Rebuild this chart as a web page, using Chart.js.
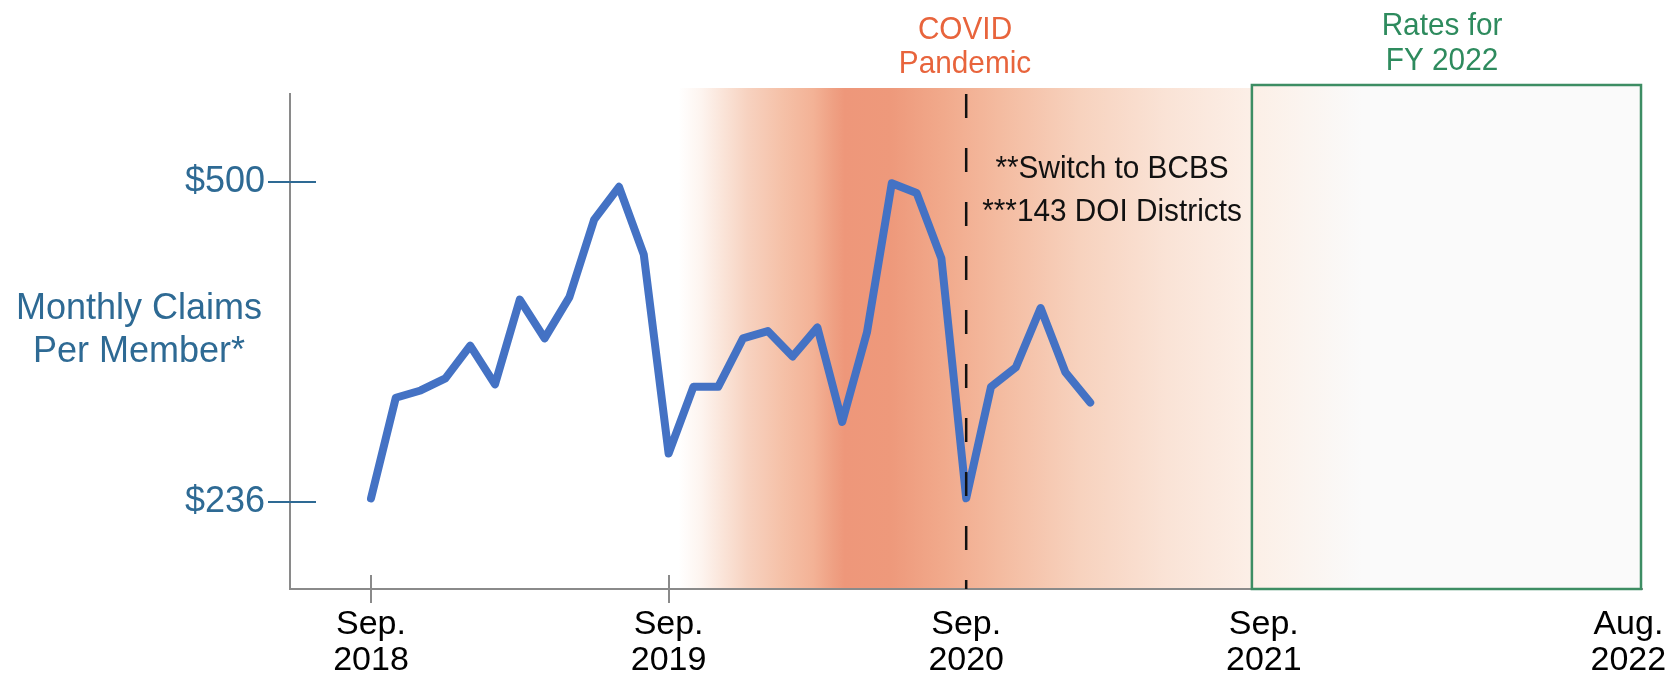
<!DOCTYPE html>
<html><head><meta charset="utf-8">
<script src="https://cdn.jsdelivr.net/npm/chart.js@4.4.1/dist/chart.umd.min.js"></script>
<style>html,body{margin:0;padding:0;background:#fff}canvas{display:block}</style>
</head><body>
<canvas id="c" width="1667" height="677"></canvas>
<script>
// ---- data ----
const months = ["Sep 2018","Oct 2018","Nov 2018","Dec 2018","Jan 2019","Feb 2019","Mar 2019","Apr 2019","May 2019","Jun 2019","Jul 2019","Aug 2019",
                "Sep 2019","Oct 2019","Nov 2019","Dec 2019","Jan 2020","Feb 2020","Mar 2020","Apr 2020","May 2020","Jun 2020","Jul 2020","Aug 2020",
                "Sep 2020","Oct 2020","Nov 2020","Dec 2020","Jan 2021","Feb 2021"];
const claims = [239, 322, 328, 338, 365, 333, 403, 371, 405, 469, 496, 440,
                276, 331, 331, 371, 377, 356, 380, 302, 376, 499, 491, 437,
                239, 331, 347, 396, 343, 318];
const yTickValues = [236, 500];
const yTickLabels = ["$236", "$500"];
const xTickMonths = [0, 12, 24, 36, 50.7];           // month index of each axis label
const xTickLabels = [["Sep.","2018"],["Sep.","2019"],["Sep.","2020"],["Sep.","2021"],["Aug.","2022"]];
const xTickMarked = [true, true, false, false, false];
const covidRange = [12.4, 35.52];                    // month index range of the shaded band
const ratesRange = [35.52, 51.25];                   // month index range of the FY 2022 box
const switchMonth = 24;
const covidText = ["COVID", "Pandemic"];
const ratesText = ["Rates for", "FY 2022"];
const noteText = ["**Switch to BCBS", "***143 DOI Districts"];
const yTitle = ["Monthly Claims", "Per Member*"];

const FONT = '"Liberation Sans", Arial, Helvetica, sans-serif';
const BLUE_TEXT = '#2e6a94';
const AXIS_GRAY = '#8a8a8a';

function narrowText(ctx, text, cx, baseline, sx) {
  ctx.save();
  ctx.translate(cx, baseline);
  ctx.scale(sx, 1);
  ctx.fillText(text, 0, 0);
  ctx.restore();
}

const decor = {
  id: 'decor',
  beforeDatasetsDraw(chart) {
    const {ctx, chartArea: a, scales: {x, y}} = chart;
    ctx.save();
    // COVID band
    const x0 = x.getPixelForValue(covidRange[0]), x1 = x.getPixelForValue(covidRange[1]);
    const top = a.top - 6;
    const g = ctx.createLinearGradient(x0, 0, x1, 0);
    const stops = [[0,'#ffffff'],[0.04,'#fdf4ef'],[0.08,'#fae3d7'],[0.12,'#f7d2c0'],[0.18,'#f5c1a8'],[0.235,'#f3b296'],
                   [0.27,'#efa083'],[0.29,'#ee977a'],[0.37,'#ee997b'],[0.46,'#f1a98b'],[0.56,'#f4bba0'],
                   [0.7,'#f7d2be'],[0.85,'#fae3d6'],[1,'#fcefe7']];
    stops.forEach(s => g.addColorStop(s[0], s[1]));
    ctx.fillStyle = g;
    ctx.fillRect(x0, top, x1 - x0, a.bottom - 1 - top);
    // Rates box
    const r0 = x.getPixelForValue(ratesRange[0]), r1 = x.getPixelForValue(ratesRange[1]);
    const btop = a.top - 9;
    const g2 = ctx.createLinearGradient(r0, 0, r0 + 110, 0);
    g2.addColorStop(0, '#fcefe6'); g2.addColorStop(1, '#fafafa');
    ctx.fillStyle = g2;
    ctx.fillRect(r0, btop, r1 - r0, a.bottom - btop);
    ctx.strokeStyle = '#3d8d63'; ctx.lineWidth = 2.5;
    ctx.strokeRect(r0, btop, r1 - r0 - 1, a.bottom - btop);
    // x tick marks crossing the axis
    ctx.strokeStyle = AXIS_GRAY; ctx.lineWidth = 2;
    xTickMonths.forEach((m, i) => {
      if (!xTickMarked[i]) return;
      const px = Math.round(x.getPixelForValue(m));
      ctx.beginPath(); ctx.moveTo(px, a.bottom - 14); ctx.lineTo(px, a.bottom + 14); ctx.stroke();
    });
    // y tick marks crossing the axis
    ctx.strokeStyle = BLUE_TEXT; ctx.lineWidth = 2;
    yTickValues.forEach(v => {
      const py = Math.round(y.getPixelForValue(v));
      ctx.beginPath(); ctx.moveTo(a.left - 22, py); ctx.lineTo(a.left + 26, py); ctx.stroke();
    });
    ctx.restore();
  },
  afterDatasetsDraw(chart) {
    const {ctx, chartArea: a, scales: {x}} = chart;
    ctx.save();
    const px = x.getPixelForValue(switchMonth);
    ctx.strokeStyle = '#111'; ctx.lineWidth = 2.5;
    ctx.setLineDash([24, 30]);
    ctx.beginPath(); ctx.moveTo(px, a.top); ctx.lineTo(px, a.bottom); ctx.stroke();
    ctx.setLineDash([]);
    ctx.textAlign = 'center'; ctx.textBaseline = 'alphabetic';
    // y title
    ctx.fillStyle = BLUE_TEXT; ctx.font = '36px ' + FONT;
    narrowText(ctx, yTitle[0], 139, 319, 1);
    narrowText(ctx, yTitle[1], 139, 362, 1);
    // COVID label
    ctx.fillStyle = '#e8643c'; ctx.font = '32px ' + FONT;
    narrowText(ctx, covidText[0], 965, 39, 0.93);
    narrowText(ctx, covidText[1], 965, 73, 0.93);
    // Rates label
    ctx.fillStyle = '#2e8b5e';
    narrowText(ctx, ratesText[0], 1442, 35, 0.93);
    narrowText(ctx, ratesText[1], 1442, 70, 0.93);
    // notes
    ctx.fillStyle = '#111';
    narrowText(ctx, noteText[0], 1112, 178, 0.93);
    narrowText(ctx, noteText[1], 1112, 221, 0.93);
    ctx.restore();
  }
};

new Chart(document.getElementById('c'), {
  type: 'line',
  data: {
    labels: months,
    datasets: [{
      label: 'Monthly Claims Per Member',
      data: claims.map((v, i) => ({x: i, y: v})),
      borderColor: '#4472c4',
      borderWidth: 8,
      pointRadius: 0,
      tension: 0,
      borderCapStyle: 'round',
      borderJoinStyle: 'round',
      fill: false
    }]
  },
  options: {
    responsive: false,
    animation: false,
    layout: {padding: {left: 0, top: 94, right: 25, bottom: 0}},
    plugins: {legend: {display: false}, tooltip: {enabled: false}},
    scales: {
      x: {
        type: 'linear', min: -3.266, max: 51.25,
        afterBuildTicks: s => { s.ticks = xTickMonths.map(v => ({value: v})); },
        afterFit: s => { s.height = 88; s.paddingLeft = 0; s.paddingRight = 0; },
        grid: {display: false},
        border: {display: true, color: AXIS_GRAY, width: 2},
        ticks: {autoSkip: false, maxRotation: 0, minRotation: 0, padding: 10, color: '#000',
                font: {family: FONT, size: 34, lineHeight: 1.06},
                callback: (v, i) => xTickLabels[i]}
      },
      y: {
        type: 'linear', min: 164.2, max: 572.6,
        afterBuildTicks: s => { s.ticks = yTickValues.map(v => ({value: v})); },
        afterFit: s => { s.width = 290; s.paddingTop = 0; s.paddingBottom = 0; },
        grid: {display: false},
        border: {display: true, color: AXIS_GRAY, width: 2},
        ticks: {padding: 17, color: BLUE_TEXT, font: {family: FONT, size: 36},
                callback: v => yTickLabels[yTickValues.indexOf(v)]}
      }
    }
  },
  plugins: [decor]
});
</script>
</body></html>
